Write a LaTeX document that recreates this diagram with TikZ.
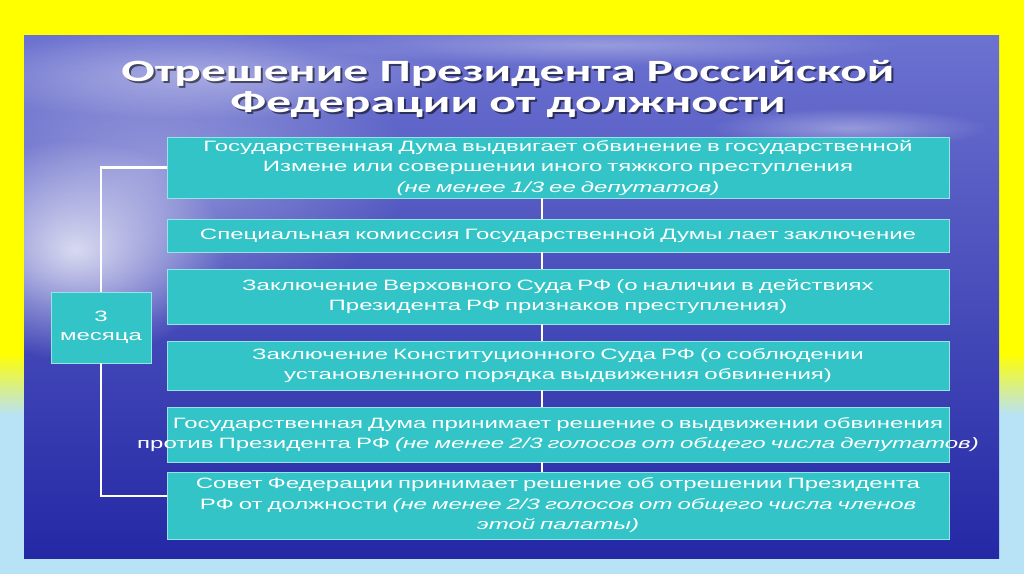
\documentclass[tikz,border=0pt]{standalone}
\usepackage{fontspec}
\usepackage{tikz}
\usetikzlibrary{fadings}

\newfontfamily\boxfont[FakeStretch=1.6]{Liberation Sans}
\newfontfamily\titlefont[FakeStretch=1.6]{Carlito}

\definecolor{boxcyan}{RGB}{50,196,198}
\definecolor{boxedge}{RGB}{150,228,232}
\definecolor{outeryellow}{RGB}{255,255,0}
\definecolor{outerblue}{RGB}{184,226,246}
\definecolor{slidetop}{RGB}{108,114,208}
\definecolor{slidemid}{RGB}{78,84,198}
\definecolor{slidebot}{RGB}{36,40,165}

\tikzfading[name=glowfade, inner color=transparent!0, outer color=transparent!100]

\newcommand{\wideline}[1]{\makebox[\linewidth]{#1}}

\tikzset{
  stage/.style={draw=boxedge, line width=0.8pt, fill=boxcyan, text=white,
    text width=782pt, align=center, inner sep=0pt,
    font=\boxfont\fontsize{15}{20.5}\selectfont},
  months/.style={draw=boxedge, line width=0.8pt, fill=boxcyan, text=white,
    minimum width=100pt, minimum height=71pt, align=center, inner sep=0pt,
    font=\boxfont\fontsize{15}{19}\selectfont},
  headline/.style={align=center, text=white,
    font=\titlefont\bfseries\fontsize{31}{30.5}\selectfont},
  link/.style={draw=white, line width=2.5pt},
  glow/.style={fill=white, path fading=glowfade},
}

\begin{document}
\begin{tikzpicture}[x=1pt,y=-1pt]
  \useasboundingbox (0,0) rectangle (1024,574);

  % фон вокруг слайда
  \fill[outeryellow] (0,0) rectangle (1024,353);
  \shade[top color=outeryellow, bottom color=outerblue] (0,353) rectangle (1024,415);
  \fill[outerblue] (0,415) rectangle (1024,574);

  % слайд
  \shade[top color=slidetop, middle color=slidemid, bottom color=slidebot]
    (24,35) rectangle (999,558);
  \begin{scope}
    \clip (24,35) rectangle (999,558);
    % блик слева и облака
    \fill[glow, fill opacity=0.75] (75,250) ellipse (150 and 110);
    \fill[glow, fill opacity=0.35] (150,170) ellipse (260 and 150);
    \fill[glow, fill opacity=0.35] (200,75) ellipse (260 and 45);
    \fill[glow, fill opacity=0.3] (600,45) ellipse (300 and 20);
    \fill[glow, fill opacity=0.35] (850,128) ellipse (140 and 20);
  \end{scope}

  % заголовок
  \node[headline, text=black, text opacity=0.55] at (510,91)
    {Отрешение Президента Российской\\Федерации от должности};
  \node[headline] (title) at (508,89)
    {Отрешение Президента Российской\\Федерации от должности};

  % этапы
  \node[stage, minimum height=61pt] (b1) at (558,167.5)
    {Государственная Дума выдвигает обвинение в государственной\\
     Измене или совершении иного тяжкого преступления\\
     \textit{(не менее 1/3 ее депутатов)}};
  \node[stage, minimum height=33pt] (b2) at (558,235.5)
    {Специальная комиссия Государственной Думы лает заключение};
  \node[stage, minimum height=55pt] (b3) at (558,296.5)
    {Заключение Верховного Суда РФ (о наличии в действиях\\
     Президента РФ признаков преступления)};
  \node[stage, minimum height=49pt] (b4) at (558,365.5)
    {Заключение Конституционного Суда РФ (о соблюдении\\
     установленного порядка выдвижения обвинения)};
  \node[stage, minimum height=55pt] (b5) at (558,434.5)
    {\wideline{Государственная Дума принимает решение о выдвижении обвинения}\\
     \wideline{против Президента РФ \textit{(не менее 2/3 голосов от общего числа депутатов)}}};
  \node[stage, minimum height=67pt] (b6) at (558,505.5)
    {Совет Федерации принимает решение об отрешении Президента\\
     РФ от должности \textit{(не менее 2/3 голосов от общего числа членов}\\
     \textit{этой палаты)}};

  % срок
  \node[months] (m) at (101,327.5) {3\\месяца};

  % связи
  \coordinate (sp) at (542,0);
  \foreach \a/\b in {b1/b2,b2/b3,b3/b4,b4/b5,b5/b6}
    \draw[link] (\a.south -| sp) -- (\b.north -| sp);
  \draw[link] (b1.west) -| (m.north);
  \draw[link] (m.south) |- ([yshift=9.5pt]b6.west);
\end{tikzpicture}
\end{document}
